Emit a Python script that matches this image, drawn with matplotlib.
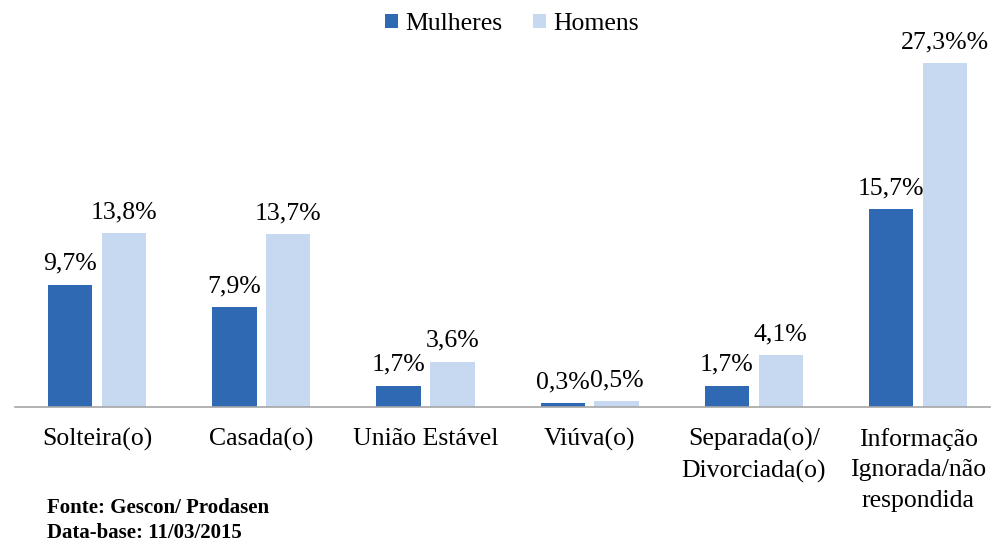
import numpy as np
import matplotlib
matplotlib.use("Agg")
import matplotlib.pyplot as plt

# Estado civil por sexo (percentual)
categorias = ["Solteira(o)", "Casada(o)", "União Estável", "Viúva(o)",
              "Separada(o)/\nDivorciada(o)", "Informação\nIgnorada/não\nrespondida"]
mulheres = [9.7, 7.9, 1.7, 0.3, 1.7, 15.7]
homens = [13.8, 13.7, 3.6, 0.5, 4.1, 27.3]
rot_mulheres = ["9,7%", "7,9%", "1,7%", "0,3%", "1,7%", "15,7%"]
rot_homens = ["13,8%", "13,7%", "3,6%", "0,5%", "4,1%", "27,3%%"]

cor_m = "#2F69B3"
cor_h = "#C6D9F0"
fs = 18.5

plt.rcParams['font.family'] = ['Liberation Serif', 'DejaVu Serif']

fig = plt.figure(figsize=(9.94, 5.43), dpi=100)
W, H = 994, 543
# axes: baseline at y=407 px, top at y=40 px
ax = fig.add_axes([15 / W, (H - 407) / H, 975 / W, 367 / H])

x = np.arange(len(categorias))
bw = 0.27
off = 0.164
ax.bar(x - off, mulheres, bw, color=cor_m, label="Mulheres")
ax.bar(x + off, homens, bw, color=cor_h, label="Homens")

for i in range(len(categorias)):
    ax.annotate(rot_mulheres[i], (x[i] - off, mulheres[i]), xytext=(0, 7),
                textcoords="offset points", ha="center", va="bottom", fontsize=fs)
    ax.annotate(rot_homens[i], (x[i] + off, homens[i]), xytext=(0, 7),
                textcoords="offset points", ha="center", va="bottom", fontsize=fs)

ax.set_xlim(-0.5, 975 / 164.2 - 0.5)
ax.set_ylim(0, 29.1)
ax.set_xticks(x)
ax.set_xticklabels(categorias, fontsize=fs, linespacing=1.5, va="top")
ax.tick_params(axis="x", length=0, pad=15)
ax.set_yticks([])
for s in ["top", "right", "left"]:
    ax.spines[s].set_visible(False)
ax.spines["bottom"].set_color("#A6A6A6")
ax.spines["bottom"].set_linewidth(1.2)

fig.legend(loc="center", bbox_to_anchor=(512 / W, 1 - 24 / H), ncol=2,
           frameon=False, fontsize=fs, handlelength=0.5, handleheight=0.5,
           handletextpad=0.3, columnspacing=1.2)

fig.text(47 / W, 1 - 508 / H, "Fonte: Gescon/ Prodasen", fontsize=15,
         fontweight="bold", va="center")
fig.text(47 / W, 1 - 533 / H, "Data-base: 11/03/2015", fontsize=15,
         fontweight="bold", va="center")

fig.savefig("out.png", dpi=100)
